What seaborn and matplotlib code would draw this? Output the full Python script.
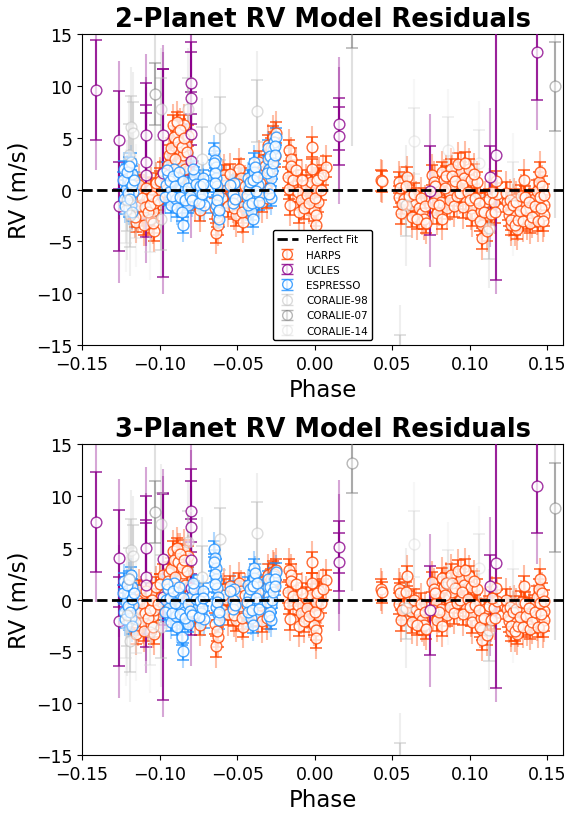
import numpy as np
import pandas as pd
import matplotlib
matplotlib.use("Agg")
import matplotlib.pyplot as plt
import seaborn as sns

# ---- HARPS ----
harps_phase = [-0.1180, -0.1165, -0.1150, -0.1140, -0.1130, -0.1120, -0.1110, -0.1100, -0.1070, -0.1056,
               -0.1056, -0.1045, -0.1036, -0.1034, -0.1000, -0.0990, -0.0980, -0.0970,
               -0.1175, -0.1160, -0.1145, -0.1125, -0.1115, -0.1095, -0.1085, -0.1075, -0.1065, -0.1050,
               -0.1040, -0.1025, -0.1010, -0.0995,
               -0.0948, -0.0938, -0.0916, -0.0916, -0.0906, -0.0895, -0.0884, -0.0875, -0.0863, -0.0852,
               -0.0840, -0.0830, -0.0820, -0.0810,
               -0.0945, -0.0925, -0.0910, -0.0900, -0.0890, -0.0880, -0.0870, -0.0858, -0.0845, -0.0835, -0.0825,
               -0.0770, -0.0740,
               -0.0637, -0.0626, -0.0584, -0.0573, -0.0530, -0.0530, -0.0530, -0.0508, -0.0487, -0.0476,
               -0.0465, -0.0455,
               -0.0645, -0.0630, -0.0600, -0.0590, -0.0560, -0.0545, -0.0520, -0.0498, -0.0480, -0.0470,
               -0.0450, -0.0440,
               -0.0358, -0.0347, -0.0326, -0.0315, -0.0304, -0.0294, -0.0272, -0.0250,
               -0.0365, -0.0350, -0.0338, -0.0320, -0.0310, -0.0300, -0.0285, -0.0278, -0.0265, -0.0258,
               -0.0165, -0.0165, -0.0154, -0.0154, -0.0111, -0.0090, -0.0058, -0.0047, -0.0026, -0.0015,
               -0.0004, 0.0007, 0.0007, 0.0007, 0.0018, 0.0028, 0.0071,
               -0.0170, -0.0160, -0.0140, -0.0120, -0.0100, -0.0080, -0.0070, -0.0035, -0.0020, 0.0000,
               0.0015, 0.0040, 0.0055,
               0.0425, 0.0435,
               0.0543, 0.0543, 0.0554, 0.0575, 0.0597, 0.0618, 0.0650, 0.0672, 0.0693, 0.0704,
               0.0548, 0.0560, 0.0585, 0.0605, 0.0625, 0.0640, 0.0660, 0.0682, 0.0712, 0.0720,
               0.0758, 0.0768, 0.0780, 0.0790, 0.0812, 0.0822, 0.0833, 0.0854, 0.0865, 0.0876,
               0.0887, 0.0940, 0.0962, 0.0973, 0.0994, 0.1005, 0.1005, 0.1016, 0.1048, 0.1070,
               0.1080, 0.1080, 0.1100, 0.1122, 0.1155, 0.1177,
               0.0763, 0.0775, 0.0800, 0.0818, 0.0840, 0.0848, 0.0870, 0.0882, 0.0895, 0.0905,
               0.0915, 0.0925, 0.0935, 0.0950, 0.0957, 0.0968, 0.0985, 0.0998, 0.1025, 0.1035,
               0.1058, 0.1065, 0.1090, 0.1110, 0.1135, 0.1145, 0.1165, 0.1170,
               0.1241, 0.1252, 0.1262, 0.1284, 0.1295, 0.1305, 0.1338, 0.1348, 0.1370, 0.1390,
               0.1413, 0.1434, 0.1434, 0.1445, 0.1455, 0.1466, 0.1477, 0.1477,
               0.1235, 0.1245, 0.1258, 0.1268, 0.1275, 0.1290, 0.1300, 0.1312, 0.1320, 0.1330,
               0.1342, 0.1355, 0.1362, 0.1378, 0.1385, 0.1400, 0.1420, 0.1440, 0.1450, 0.1460,
               0.1470, 0.1480]
harps_res_2p = [-0.6, -1.2, -3.1, -2.1, 0.4, -0.4, -2.5, -3.4, -0.9, 0.1,
                -2.8, -2.1, -1.3, -4.0, 1.1, -0.2, 1.7, 0.4,
                -1.8, -2.6, -0.5, -1.6, -0.8, -1.7, 0.2, -2.2, -1.5, -0.6,
                -3.2, 0.6, -1.0, 0.8,
                1.4, 3.3, 2.3, 6.2, 1.4, 4.7, 5.6, 3.9, 2.7, 3.3,
                6.2, 4.3, 5.2, 0.5,
                2.4, 4.0, 5.1, 3.0, 6.5, 4.6, 5.8, 4.1, 5.0, 2.0, 3.6,
                -1.0, -2.0,
                -4.2, -3.4, 1.4, 0.4, 0.4, -0.4, -1.2, -2.5, 2.0, 1.1,
                -3.1, -1.5,
                -1.8, -2.6, -0.8, 0.9, -1.6, 1.5, -1.8, 0.5, -0.6, -2.2,
                0.3, -0.8,
                2.7, 1.7, 1.1, 0.1, 4.3, 3.3, 5.1, 5.5,
                -0.6, 0.6, -1.2, 2.3, -0.8, 1.8, 4.0, 2.5, 4.6, 3.2,
                3.8, 0.1, 3.0, 2.3, -0.2, -1.0, 0.4, -0.5, 0.7, 4.1,
                -2.0, 0.1, -2.5, -3.4, -1.2, 1.1, 2.2,
                1.2, -1.5, 0.9, 1.9, -2.2, 0.9, -1.8, -1.3, 2.0, -0.8,
                0.9, 0.0, 1.4,
                0.9, 0.8,
                0.7, -0.7, -2.3, -0.9, 1.2, -1.5, -1.2, -1.8, -2.3, -2.8,
                0.2, -1.4, 0.3, -0.6, -2.6, -0.4, -2.8, -0.8, -1.6, -3.2,
                1.4, 0.7, -0.5, -2.3, -1.2, 1.7, 0.9, -1.8, -0.2, 2.0,
                0.4, 1.7, 1.1, -0.9, 2.0, 0.9, -1.8, -2.5, 0.7, -2.1,
                -3.4, -4.7, -1.2, -0.9, -1.2, -0.4,
                -1.3, 0.3, -1.5, -2.8, 0.2, 1.3, -1.0, 1.3, -1.6, 0.8,
                -0.6, 2.5, -0.3, 0.4, -1.7, 2.6, -0.2, -1.0, 1.5, -0.8,
                -1.3, -3.0, -2.2, -4.0, -2.4, -0.2, -2.2, 0.8,
                -1.2, -2.5, -3.4, -0.9, -2.5, -3.8, -1.5, 0.9, -2.8, -1.8,
                -0.9, -0.1, -2.3, 0.7, 1.7, 0.3, -1.5, -2.5,
                -0.3, -1.9, -1.0, -2.9, -1.5, -3.4, -1.2, -2.9, -2.1, -0.6,
                -3.0, -0.7, -2.0, -1.2, -3.2, -2.6, -1.6, -3.0, -0.7, -1.8,
                -3.0, -0.5]
harps_res_3p = [-0.2, -1.0, -3.3, -2.4, 0.9, 0.2, -2.2, -3.0, -0.5, 0.6,
                -2.3, -1.6, -1.0, -3.3, 1.5, 0.3, 2.4, 1.0,
                -1.5, -2.2, 0.0, -1.2, -0.3, -1.3, 0.8, -1.8, -1.0, 0.0,
                -2.6, 1.2, -0.4, 1.5,
                0.9, 2.6, 1.8, 4.7, 0.8, 3.9, 4.4, 3.2, 2.0, 2.6,
                4.8, 3.5, 4.2, 0.1,
                1.8, 3.0, 3.8, 2.2, 5.0, 3.6, 4.4, 3.2, 3.8, 1.4, 2.8,
                -1.3, -2.4,
                -4.5, -3.6, 1.0, 0.1, 0.6, -0.3, -1.0, -2.0, 1.6, 0.8,
                -2.6, -1.2,
                -2.3, -3.0, -1.0, 0.5, -1.4, 1.3, -1.5, 0.4, -0.6, -1.8,
                0.5, -0.5,
                1.2, 0.5, -0.2, -1.1, 2.4, 1.6, 2.7, 2.9,
                -1.5, -0.5, -2.1, 0.9, -1.8, 0.6, 2.0, 1.2, 2.5, 1.8,
                2.9, -0.4, 2.4, 1.8, -0.5, -1.3, 0.2, -0.8, 0.5, 3.6,
                -2.4, -0.2, -2.9, -3.7, -1.5, 0.8, 1.9,
                0.7, -1.9, 0.4, 1.5, -2.5, 0.6, -2.1, -1.6, 1.6, -1.2,
                0.6, -0.3, 1.0,
                1.0, 0.7,
                1.0, -0.4, -2.0, -0.6, 2.3, -1.1, -0.9, -1.4, -2.0, -2.4,
                0.6, -1.0, 0.7, -0.2, -2.2, 0.0, -2.4, -0.4, -1.2, -2.8,
                1.7, 1.0, -0.3, -2.0, -0.9, 2.1, 1.2, -1.5, 0.1, 2.4,
                0.7, 2.0, 1.4, -0.6, 2.3, 1.2, -1.5, -2.2, 1.0, -1.8,
                -2.9, -3.9, -0.9, -0.6, -0.8, -0.1,
                -1.0, 0.6, -1.2, -2.5, 0.5, 1.6, -0.7, 1.6, -1.3, 1.1,
                -0.3, 2.8, 0.0, 0.7, -1.4, 2.9, 0.1, -0.7, 1.8, -0.5,
                -1.0, -2.6, -1.8, -3.4, -2.0, 0.2, -1.8, 1.1,
                -0.9, -2.1, -3.0, -0.6, -2.2, -3.3, -1.1, 1.3, -2.4, -1.4,
                -0.5, 0.3, -1.9, 1.0, 2.0, 0.6, -1.1, -2.0,
                0.0, -1.6, -0.7, -2.5, -1.2, -3.0, -0.9, -2.5, -1.7, -0.2,
                -2.6, -0.3, -1.6, -0.8, -2.8, -2.2, -1.2, -2.6, -0.3, -1.4,
                -2.6, -0.1]
harps_err = 1.0
harps_jitter = 1.8

# ---- UCLES ----
ucles_phase = [-0.141, -0.126, -0.126, -0.109, -0.109, -0.109, -0.098, -0.098, -0.080,
               -0.080, -0.080, -0.080, 0.0155, 0.0155, 0.074, 0.113, 0.117, 0.143]
ucles_res_2p = [9.6, 4.8, -1.6, 5.3, 2.7, 1.4, 5.3, 1.6, 10.3, 8.8, 5.4, 2.8, 6.3, 5.2, -0.1, 1.2, 3.3, 13.3]
ucles_res_3p = [7.5, 4.0, -2.1, 5.0, 2.2, 1.4, 3.9, 0.3, 8.6, 7.0, 3.8, 1.1, 5.1, 3.6, -1.0, 1.3, 3.5, 11.0]
ucles_err = [4.8, 4.7, 4.3, 5.0, 5.5, 6.0, 6.3, 10.0, 4.0, 4.5, 4.0, 4.5, 2.5, 2.8, 4.3, 3.0, 12.0, 4.6]
ucles_jitter = 6.0

# ---- ESPRESSO ----
espresso_phase = [-0.1228, -0.1228, -0.1217, -0.1206, -0.1200, -0.1195, -0.1190, -0.1184, -0.1184, -0.1175, -0.1170,
                  -0.1235, -0.1222, -0.1212, -0.1205, -0.1197, -0.1188, -0.1180, -0.1178, -0.1165,
                  -0.0959, -0.0948, -0.0938, -0.0927, -0.0906, -0.0895, -0.0884, -0.0863, -0.0852, -0.0842,
                  -0.0820, -0.0798, -0.0777, -0.0755, -0.0734, -0.0723, -0.0712,
                  -0.0965, -0.0955, -0.0932, -0.0920, -0.0912, -0.0900, -0.0890, -0.0878, -0.0870, -0.0858,
                  -0.0848, -0.0835, -0.0815, -0.0805, -0.0790, -0.0785, -0.0765, -0.0748, -0.0740, -0.0728,
                  -0.0718,
                  -0.0648, -0.0642, -0.0637, -0.0637, -0.0632, -0.0626, -0.0637, -0.0626, -0.0616,
                  -0.0652, -0.0645, -0.0640, -0.0630, -0.0620,
                  -0.0530, -0.0525, -0.0520, -0.0545, -0.0515,
                  -0.0433, -0.0423, -0.0412, -0.0412, -0.0401, -0.0390, -0.0390, -0.0369, -0.0358,
                  -0.0438, -0.0428, -0.0418, -0.0405, -0.0395, -0.0385, -0.0380, -0.0375, -0.0362,
                  -0.0304, -0.0294, -0.0283, -0.0272, -0.0262, -0.0250, -0.0290, -0.0280,
                  -0.0308, -0.0300, -0.0296, -0.0286, -0.0276, -0.0268, -0.0258, -0.0255]
espresso_res_2p = [2.0, -0.9, 0.1, 1.1, -1.8, -0.5, 0.6, 2.7, -1.5, 1.5, -0.2,
                   0.9, -1.6, 1.7, -0.3, 2.3, -0.9, 0.4, -2.2, 0.9,
                   0.4, 1.4, -0.2, -1.5, 2.0, -0.9, 1.1, 0.1, -3.4, -0.5,
                   -1.5, 0.7, 1.4, -0.2, -0.9, 1.1, -1.5,
                   -0.7, 1.9, 0.8, -0.6, 1.3, 0.3, -1.8, 1.7, -0.7, -2.2,
                   0.8, -1.0, 0.2, -0.6, -1.0, 2.0, 0.5, -1.3, 0.3, -0.4,
                   0.5,
                   3.7, 2.9, 2.2, 1.1, 0.3, -0.5, -1.5, -2.2, -2.8,
                   2.6, 1.6, 0.6, -1.0, -2.0,
                   -0.4, -1.3, 0.6, 0.4, -0.9,
                   1.1, 0.1, -0.9, -2.1, -2.8, 2.7, 1.7, 0.4, -0.5,
                   -0.5, -1.5, 0.7, -1.3, 0.9, 2.2, -0.1, 1.2, -1.2,
                   3.0, 2.0, 1.1, 3.9, 4.6, 5.1, 0.2, -0.8,
                   1.6, 4.0, -0.4, 3.2, 1.8, 2.6, 4.2, 3.3]
espresso_res_3p = [1.8, -1.2, -0.2, 0.9, -2.1, -0.8, 0.4, 2.4, -1.8, 1.2, -0.5,
                   0.6, -1.9, 1.4, -0.6, 2.0, -1.2, 0.1, -2.5, 0.6,
                   0.0, 1.0, -0.8, -2.2, 1.6, -1.6, 0.6, -0.6, -5.0, -1.2,
                   -2.3, 0.3, 1.0, -0.6, -1.3, 0.8, -1.9,
                   -1.2, 1.5, 0.2, -1.3, 0.8, -0.3, -2.6, 1.2, -1.4, -3.6,
                   0.2, -1.8, -0.4, -1.1, -1.5, 1.6, 0.1, -1.7, -0.1, -0.8,
                   0.2,
                   4.9, 4.0, 3.1, 2.0, 1.1, 0.3, -0.7, -1.4, -2.0,
                   3.6, 2.5, 1.5, -0.2, -1.2,
                   0.0, -0.9, 1.0, 0.8, -0.5,
                   1.4, 0.4, -0.6, -1.8, -2.4, 3.1, 2.1, 0.7, -0.2,
                   -0.2, -1.2, 1.0, -1.0, 1.3, 2.6, 0.2, 1.6, -0.9,
                   1.2, 0.4, -0.5, 1.8, 2.3, 2.7, -1.2, -2.0,
                   -0.2, 2.0, -1.6, 1.2, 0.0, 0.7, 2.0, 1.3]
espresso_err = 0.8
espresso_jitter = 1.4

# ---- CORALIE ----
cor98_phase = [-0.1210, -0.1200, -0.1190, -0.1185, -0.1170, -0.0990, -0.0990, -0.0820, -0.0730,
               -0.0610, -0.0370, 0.0550, 0.0590, 0.1120]
cor98_res_2p = [-1.0, 3.3, -2.5, 6.0, 5.5, 7.8, -2.8, 7.8, 3.0, 5.9, 7.6, -17.0, -1.5, -3.7]
cor98_res_3p = [-1.5, 2.0, -4.0, 4.8, 4.2, 7.3, -2.6, 5.6, 2.2, 5.9, 6.4, -16.8, -0.8, -2.9]
cor98_err = 3.0
cor98_jitter = 5.0

cor07_phase = [-0.1030, 0.0240, 0.1550]
cor07_res_2p = [9.2, 16.6, 10.0]
cor07_res_3p = [8.5, 13.2, 8.9]
cor07_err = [3.0, 2.9, 4.3]
cor07_jitter = 12.0

cor14_phase = [-0.1220, -0.1150, -0.1060, 0.0640, 0.0860, 0.1060, 0.1280]
cor14_res_2p = [-2.0, -1.5, -2.8, 4.7, 3.8, 2.6, -0.5]
cor14_res_3p = [-2.4, -1.9, -3.1, 5.4, 1.6, 3.1, -0.2]
cor14_err = 3.2
cor14_jitter = 5.0

instruments = {
    'HARPS': dict(phase=harps_phase, r2=harps_res_2p, r3=harps_res_3p, err=harps_err,
                  jit=harps_jitter, color='orangered', alpha=1.0),
    'UCLES': dict(phase=ucles_phase, r2=ucles_res_2p, r3=ucles_res_3p, err=ucles_err,
                  jit=ucles_jitter, color='darkmagenta', alpha=1.0),
    'ESPRESSO': dict(phase=espresso_phase, r2=espresso_res_2p, r3=espresso_res_3p, err=espresso_err,
                     jit=espresso_jitter, color='dodgerblue', alpha=1.0),
    'CORALIE-98': dict(phase=cor98_phase, r2=cor98_res_2p, r3=cor98_res_3p, err=cor98_err,
                       jit=cor98_jitter, color='silver', alpha=0.7),
    'CORALIE-07': dict(phase=cor07_phase, r2=cor07_res_2p, r3=cor07_res_3p, err=cor07_err,
                       jit=cor07_jitter, color='gray', alpha=0.7),
    'CORALIE-14': dict(phase=cor14_phase, r2=cor14_res_2p, r3=cor14_res_3p, err=cor14_err,
                       jit=cor14_jitter, color='lightgray', alpha=0.5),
}

sns.set_style("ticks")
plt.rcParams['font.family'] = ['DejaVu Sans']
plt.rcParams.update({'text.color': 'black', 'axes.labelcolor': 'black', 'axes.edgecolor': 'black',
                     'xtick.color': 'black', 'ytick.color': 'black'})


def plot_residuos(ax, key, title, leyenda=False):
    ax.axhline(0, color='black', ls='--', lw=2, zorder=10, label='Perfect Fit')
    for name, inst in instruments.items():
        df = pd.DataFrame({'phase': inst['phase'], 'res': inst[key]})
        err = np.broadcast_to(np.asarray(inst['err'], dtype=float), len(df))
        tot = np.sqrt(err ** 2 + inst['jit'] ** 2)
        a = inst['alpha']
        c = inst['color']
        ax.errorbar(df['phase'], df['res'], yerr=tot, fmt='none', ecolor=c,
                    elinewidth=1.5, alpha=0.35 * a, zorder=2)
        ax.errorbar(df['phase'], df['res'], yerr=err, fmt='none', ecolor=c,
                    elinewidth=1.5, capsize=4, capthick=1.2, alpha=0.8 * a, zorder=3)
        sns.scatterplot(data=df, x='phase', y='res', ax=ax, s=60, facecolor='white',
                        edgecolor=c, linewidth=1.0, alpha=0.8 * a, zorder=4, legend=False)
        if leyenda:
            ax.errorbar([np.nan], [np.nan], yerr=[np.nan], fmt='o', color=c, mfc='white',
                        mec=c, ms=7, capsize=4, alpha=0.8 * a, label=name)
    ax.set_xlim(-0.15, 0.16)
    ax.set_ylim(-15, 15)
    ax.set_title(title, fontsize=18.5, fontweight='bold')
    ax.set_xlabel('Phase', fontsize=16.5)
    ax.set_ylabel('RV (m/s)', fontsize=16.5)
    ax.tick_params(labelsize=12.5)
    if leyenda:
        ax.legend(loc='lower center', fontsize=7.5, frameon=True, edgecolor='black', framealpha=1)


fig, axes = plt.subplots(2, 1, figsize=(5.78, 8.2), dpi=100)
plot_residuos(axes[0], 'r2', '2-Planet RV Model Residuals', leyenda=True)
plot_residuos(axes[1], 'r3', '3-Planet RV Model Residuals')
fig.subplots_adjust(left=0.142, right=0.974, top=0.957, bottom=0.078, hspace=0.32)
fig.savefig('out.png', dpi=100)
